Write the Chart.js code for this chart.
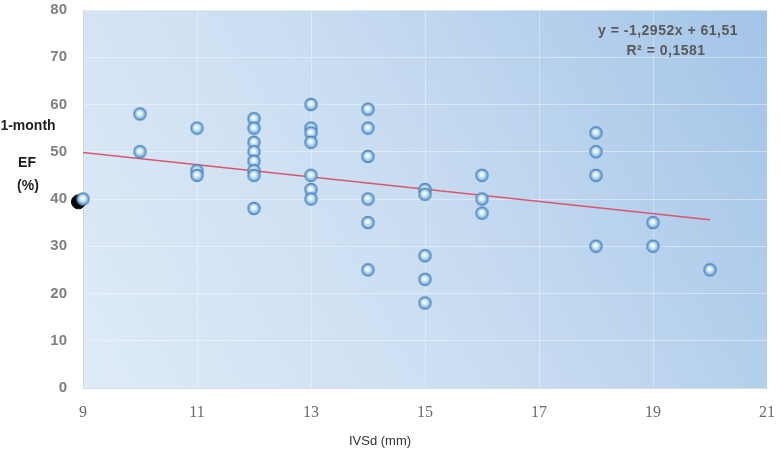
<!DOCTYPE html>
<html>
<head>
<meta charset="utf-8">
<script src="https://cdn.jsdelivr.net/npm/chart.js@4.4.1/dist/chart.umd.min.js"></script>
<style>
  html, body { margin: 0; padding: 0; background: #ffffff; }
  #wrap { width: 781px; height: 461px; position: relative; }
</style>
</head>
<body>
<div id="wrap"><canvas id="c" width="781" height="461"></canvas></div>
<script>
// ---- data ----
const ivsdX = [9, 10, 10, 11, 11, 11, 12, 12, 12, 12, 12, 12, 12, 12,
               13, 13, 13, 13, 13, 13, 13, 14, 14, 14, 14, 14, 14,
               15, 15, 15, 15, 15, 16, 16, 16, 18, 18, 18, 18, 19, 19, 20];
const efY   = [40, 58, 50, 55, 46, 45, 57, 55, 52, 50, 48, 46, 45, 38,
               60, 55, 54, 52, 45, 42, 40, 59, 55, 49, 40, 35, 25,
               42, 41, 28, 23, 18, 45, 40, 37, 54, 50, 45, 30, 35, 30, 25];
const trendX = [9, 20];
const trendY = [49.85, 35.61];
const shadowX = [8.92];
const shadowY = [39.4];
const xTicks = [9, 11, 13, 15, 17, 19, 21];
const yTicks = [0, 10, 20, 30, 40, 50, 60, 70, 80];
const equationLines = ["y = -1,2952x + 61,51", "R² = 0,1581"];
const yTitleLines = ["1-month", "EF", "(%)"];
const xTitle = "IVSd (mm)";

// ---- marker image ----
function makeMarker() {
  const s = 15, c = document.createElement('canvas');
  c.width = s; c.height = s;
  const g = c.getContext('2d');
  const cx = s / 2, cy = s / 2, r = 6;
  const grad = g.createRadialGradient(cx - 0.5, cy - 1, 0.5, cx, cy, r);
  grad.addColorStop(0, '#ffffff');
  grad.addColorStop(0.35, '#d6ecfb');
  grad.addColorStop(0.75, '#8fc0e8');
  grad.addColorStop(1, '#5d97cf');
  g.beginPath(); g.arc(cx, cy, r, 0, Math.PI * 2);
  g.fillStyle = grad; g.fill();
  g.lineWidth = 1.3; g.strokeStyle = '#4f84bb'; g.stroke();
  return c;
}
const marker = makeMarker();

const bgPlugin = {
  id: 'bg',
  beforeDraw(chart) {
    const { ctx, chartArea: a } = chart;
    ctx.save();
    const grad = ctx.createLinearGradient(a.left, a.bottom, a.right, a.top);
    grad.addColorStop(0, '#dfebf7');
    grad.addColorStop(0.5, '#c8dcf1');
    grad.addColorStop(1, '#a3c4e7');
    ctx.fillStyle = grad;
    ctx.fillRect(a.left, a.top, a.right - a.left, a.bottom - a.top);
    ctx.restore();
  }
};

const textPlugin = {
  id: 'texts',
  afterDraw(chart) {
    const { ctx, chartArea: a } = chart;
    ctx.save();
    // y-axis title
    ctx.fillStyle = '#1e1e1e';
    ctx.font = 'bold 14px "Liberation Sans", Arial, sans-serif';
    ctx.textAlign = 'center';
    ctx.textBaseline = 'middle';
    ctx.fillText(yTitleLines[0], 28, 126);
    ctx.fillText(yTitleLines[1], 27, 163);
    ctx.fillText(yTitleLines[2], 28, 186);
    // x-axis title
    ctx.fillStyle = '#333333';
    ctx.font = '13px "Liberation Sans", Arial, sans-serif';
    ctx.fillText(xTitle, 380, 441);
    // equation
    ctx.fillStyle = '#595959';
    ctx.font = 'bold 14px "Liberation Sans", Arial, sans-serif';
    ctx.letterSpacing = '0.5px';
    ctx.fillText(equationLines[0], a.right - 99, 31);
    ctx.fillText(equationLines[1], a.right - 101, 51);
    ctx.restore();
  }
};

new Chart(document.getElementById('c'), {
  type: 'scatter',
  data: {
    datasets: [
      {
        label: 'trend',
        type: 'line',
        data: trendX.map((x, i) => ({ x, y: trendY[i] })),
        borderColor: '#d8566e',
        borderWidth: 1.4,
        pointRadius: 0,
        fill: false,
        order: 3
      },
      {
        label: 'shadow',
        data: shadowX.map((x, i) => ({ x, y: shadowY[i] })),
        backgroundColor: '#050505',
        borderColor: '#050505',
        pointRadius: 7,
        clip: false,
        order: 2
      },
      {
        label: 'EF',
        data: ivsdX.map((x, i) => ({ x, y: efY[i] })),
        pointStyle: marker,
        pointRadius: 7,
        clip: false,
        order: 1
      }
    ]
  },
  options: {
    responsive: false,
    animation: false,
    events: [],
    layout: { padding: { top: 10, right: 14, left: 0, bottom: 0 } },
    plugins: { legend: { display: false }, tooltip: { enabled: false } },
    scales: {
      x: {
        type: 'linear',
        min: 9, max: 21,
        afterBuildTicks(scale) { scale.ticks = xTicks.map(v => ({ value: v })); },
        afterFit(scale) { scale.height = 73; scale.paddingLeft = 0; scale.paddingRight = 0; },
        grid: { color: 'rgba(255,255,255,0.35)', drawTicks: false, lineWidth: 1 },
        border: { display: true, color: '#d3dde8' },
        ticks: {
          padding: 15,
          color: '#6a6a6a',
          font: { family: '"Liberation Serif", "DejaVu Serif", serif', size: 16 }
        }
      },
      y: {
        type: 'linear',
        min: 0, max: 80,
        afterBuildTicks(scale) { scale.ticks = yTicks.map(v => ({ value: v })); },
        afterFit(scale) { scale.width = 83; scale.paddingTop = 0; scale.paddingBottom = 0; },
        grid: { color: 'rgba(255,255,255,0.4)', drawTicks: false, lineWidth: 1 },
        border: { display: true, color: '#cdd9e6' },
        ticks: {
          padding: 16,
          color: '#808080',
          font: { family: '"Liberation Sans", Arial, sans-serif', size: 15, weight: 'bold' }
        }
      }
    }
  },
  plugins: [bgPlugin, textPlugin]
});
</script>
</body>
</html>
